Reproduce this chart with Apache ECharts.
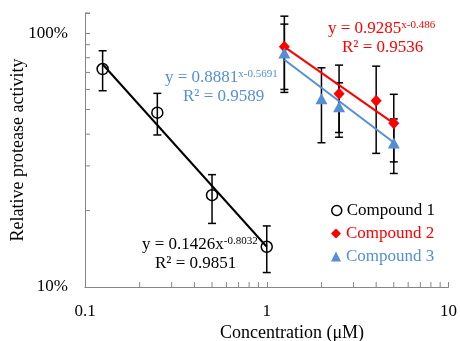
<!DOCTYPE html>
<html><head><meta charset="utf-8">
<script src="https://cdn.jsdelivr.net/npm/echarts@6/dist/echarts.min.js"></script>
<style>html,body{margin:0;padding:0;background:#fff}#c{width:460px;height:341px}</style>
</head><body><div id="c"></div>
<script>
// Compound 1
const conc1 = [0.125, 0.25, 0.5, 1];
const act1 = [0.722, 0.486, 0.230, 0.144];
const low1 = [0.593, 0.397, 0.178, 0.114];
const high1 = [0.852, 0.579, 0.277, 0.174];
// Compound 2
const conc2 = [1.25, 2.5, 4, 5];
const act2 = [0.883, 0.577, 0.541, 0.442];
const low2 = [0.600, 0.406, 0.336, 0.311];
const high2 = [1.166, 0.748, 0.741, 0.574];
// Compound 3
const conc3 = [1.25, 2, 2.5, 5];
const act3 = [0.834, 0.551, 0.513, 0.369];
const low3 = [0.584, 0.370, 0.389, 0.280];
const high3 = [1.085, 0.730, 0.637, 0.459];
// trendline endpoints
const fitX1 = [0.125, 1], fitY1 = [0.754, 0.144];
const fitX2 = [1.25, 5], fitY2 = [0.883, 0.441];
const fitX3 = [1.25, 5], fitY3 = [0.785, 0.371];
// axes
const xMin = 0.1, xMax = 10, yMin = 0.1, yMax = 1.2;
const xTickLabels = {0.1: '0.1', 1: '1', 10: '10'};
const yTickLabels = {0.1: '10%', 1: '100%'};
const xMinorTicks = [0.2,0.3,0.4,0.5,0.6,0.7,0.8,0.9,2,3,4,5,6,7,8,9];
const yMinorTicks = [0.2,0.3,0.4,0.5,0.6,0.7,0.8,0.9,1.2];
const names = ['Compound 1', 'Compound 2', 'Compound 3'];
const xTitle = 'Concentration (μM)';
const yTitle = 'Relative protease activity';

const FONT = 'Liberation Serif';
const BLACK = '#000', RED = '#FF0000', BLUE = '#558ED5', AXIS = '#868686';

function zip(a, b) { return a.map((v, i) => [v, b[i]]); }
function errData(x, lo, hi) { return x.map((v, i) => [v, lo[i], hi[i]]); }
function labelFor(map, v) {
  for (const k in map) { if (Math.abs(Math.log10(+k) - Math.log10(v)) < 1e-6) return map[k]; }
  return '';
}
function errSeries(data) {
  return {
    type: 'custom', data: data, silent: true, z: 2,
    encode: {x: 0, y: [1, 2]},
    renderItem: function (params, api) {
      const x = api.value(0);
      const p1 = api.coord([x, api.value(2)]);
      const p2 = api.coord([x, api.value(1)]);
      const w = 4;
      const st = {stroke: '#000', lineWidth: 1.5};
      return {type: 'group', children: [
        {type: 'line', shape: {x1: p1[0], y1: p1[1], x2: p2[0], y2: p2[1]}, style: st},
        {type: 'line', shape: {x1: p1[0]-w, y1: p1[1], x2: p1[0]+w, y2: p1[1]}, style: st},
        {type: 'line', shape: {x1: p2[0]-w, y1: p2[1], x2: p2[0]+w, y2: p2[1]}, style: st}
      ]};
    }
  };
}
function tickSeries(data, dir) {
  return {
    type: 'custom', data: data, silent: true, z: 1,
    renderItem: function (params, api) {
      const p = api.coord([api.value(0), api.value(1)]);
      const st = {stroke: AXIS, lineWidth: 1};
      if (dir === 'x') return {type: 'line', shape: {x1: p[0], y1: p[1], x2: p[0], y2: p[1]-5}, style: st};
      return {type: 'line', shape: {x1: p[0], y1: p[1], x2: p[0]+5, y2: p[1]}, style: st};
    }
  };
}
function eqText(x, y, main, sup, color) {
  return {type: 'text', x: x, y: y, z: 100, style: {
    text: '{n|' + main + '}' + (sup ? '{s|' + sup + '}' : ''),
    align: 'left', verticalAlign: 'middle',
    rich: {
      n: {fontFamily: FONT, fontSize: 17, fill: color, lineHeight: 18},
      s: {fontFamily: FONT, fontSize: 11, fill: color, verticalAlign: 'top', lineHeight: 18}
    }
  }};
}
function legendFor(i, top, icon, itemStyle, color) {
  return {
    orient: 'vertical', left: 326, top: top, itemWidth: 10, itemHeight: 10,
    formatter: '{t|{name}}',
    textStyle: {fontFamily: FONT, fontSize: 17, color: color,
      rich: {t: {fontFamily: FONT, fontSize: 17, color: color}}},
    data: [{name: names[i], icon: icon, itemStyle: itemStyle}]
  };
}

const chart = echarts.init(document.getElementById('c'), null, {renderer: 'canvas'});
chart.setOption({
  animation: false,
  backgroundColor: '#fff',
  textStyle: {fontFamily: FONT},
  grid: {left: 85, right: 10, top: 13, bottom: 54, containLabel: false},
  xAxis: {
    type: 'log', logBase: 10, min: xMin, max: xMax,
    axisLine: {lineStyle: {color: AXIS, width: 1}},
    axisTick: {show: true, inside: true, length: 5, lineStyle: {color: AXIS}},
    splitLine: {show: false},
    axisLabel: {fontFamily: FONT, fontSize: 17, color: '#000', margin: 16,
      formatter: v => labelFor(xTickLabels, v)}
  },
  yAxis: {
    type: 'log', logBase: 10, min: yMin, max: yMax,
    axisLine: {lineStyle: {color: AXIS, width: 1}},
    axisTick: {show: true, inside: true, length: 5, lineStyle: {color: AXIS}},
    splitLine: {show: false},
    axisLabel: {fontFamily: FONT, fontSize: 17, color: '#000', margin: 17,
      formatter: v => labelFor(yTickLabels, v)}
  },
  legend: [
    legendFor(0, 197, 'circle', {color: '#fff', borderColor: '#000', borderWidth: 1.5}, BLACK),
    legendFor(1, 220, 'diamond', {color: RED}, RED),
    legendFor(2, 243, 'triangle', {color: BLUE}, BLUE)
  ],
  graphic: [
    {type: 'text', x: 292, y: 333, style: {text: xTitle, fontFamily: FONT, fontSize: 18, fill: '#000', align: 'center', verticalAlign: 'middle'}},
    {type: 'text', x: 18, y: 150, rotation: Math.PI / 2, style: {text: yTitle, fontFamily: FONT, fontSize: 18, fill: '#000', align: 'center', verticalAlign: 'middle'}},
    eqText(165, 78, 'y = 0.8881', 'x-0.5691', BLUE),
    eqText(183, 97, 'R² = 0.9589', '', BLUE),
    eqText(328, 29, 'y = 0.9285', 'x-0.486', RED),
    eqText(342, 48, 'R² = 0.9536', '', RED),
    eqText(142, 245, 'y = 0.1426x', '-0.8032', BLACK),
    eqText(155, 264, 'R² = 0.9851', '', BLACK)
  ],
  series: [
    tickSeries(xMinorTicks.map(v => [v, yMin]), 'x'),
    tickSeries(yMinorTicks.map(v => [xMin, v]), 'y'),
    errSeries(errData(conc1, low1, high1)),
    errSeries(errData(conc2, low2, high2)),
    errSeries(errData(conc3, low3, high3)),
    {type: 'line', data: zip(fitX1, fitY1), symbol: 'none', silent: true, z: 3, lineStyle: {color: BLACK, width: 2}},
    {type: 'line', data: zip(fitX2, fitY2), symbol: 'none', silent: true, z: 3, lineStyle: {color: RED, width: 2}},
    {type: 'line', data: zip(fitX3, fitY3), symbol: 'none', silent: true, z: 3, lineStyle: {color: BLUE, width: 2}},
    {name: names[0], type: 'scatter', data: zip(conc1, act1), symbol: 'circle', symbolSize: 11, z: 4,
      itemStyle: {color: 'rgba(255,255,255,0)', borderColor: '#000', borderWidth: 1.5, opacity: 1}},
    {name: names[1], type: 'scatter', data: zip(conc2, act2), symbol: 'diamond', symbolSize: [11, 12], z: 4,
      itemStyle: {color: RED, opacity: 1}},
    {name: names[2], type: 'scatter', data: zip(conc3, act3), symbol: 'triangle', symbolSize: [12, 11], z: 4,
      itemStyle: {color: BLUE, opacity: 1}}
  ]
});
</script></body></html>
